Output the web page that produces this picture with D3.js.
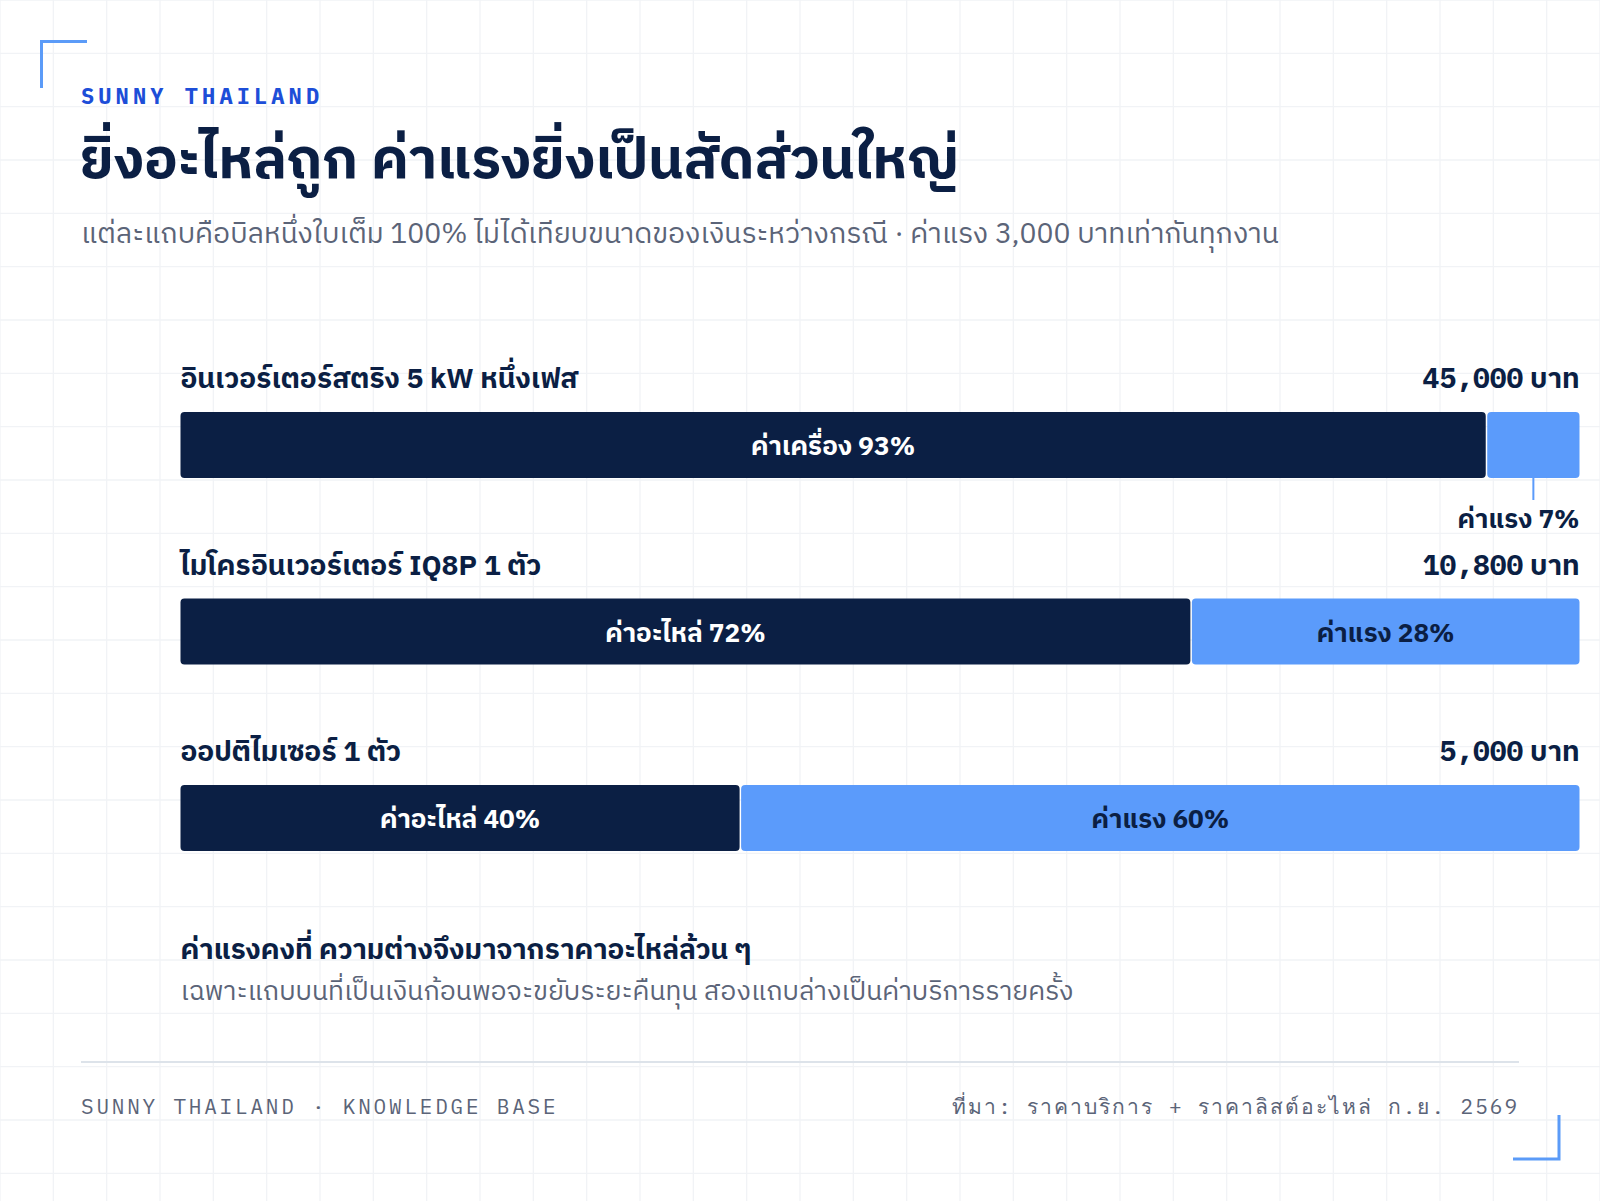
<!DOCTYPE html>
<html>
<head>
<meta charset="utf-8">
<script src="https://cdn.jsdelivr.net/npm/d3@7"></script>
<style>
  html, body { margin: 0; padding: 0; background: #fff; }
  svg { display: block; }
  .thai { font-family: "IBM Plex Sans Thai", "Noto Sans Thai", "Noto Sans", sans-serif; }
  .mono { font-family: "IBM Plex Mono", "DejaVu Sans Mono", "Liberation Mono", monospace; }
</style>
</head>
<body>
<svg id="chart" width="1600" height="1201"></svg>
<script>
// rows of the chart, each one a full bill
const jobs = ["อินเวอร์เตอร์สตริง 5 kW หนึ่งเฟส", "ไมโครอินเวอร์เตอร์ IQ8P 1 ตัว", "ออปติไมเซอร์ 1 ตัว"];
const totals = [45000, 10800, 5000];
const labor = [3000, 3000, 3000];
const partNames = ["ค่าเครื่อง", "ค่าอะไหล่", "ค่าอะไหล่"];
const laborName = "ค่าแรง";

const colors = { parts: "#0b1f44", labor: "#5b9bfb", ink: "#0b1f44", muted: "#5b6478", grid: "#f1f3f6", accent: "#5b9bf8" };

const W = 1600, H = 1201;
const svg = d3.select("#chart");

// background grid
const gridStep = W / 30;
const grid = svg.append("g");
grid.selectAll("line.v")
  .data(d3.range(0, W + 1, gridStep))
  .enter().append("line")
  .attr("x1", d => d).attr("x2", d => d)
  .attr("y1", 0).attr("y2", H)
  .attr("stroke", colors.grid).attr("stroke-width", 1.3);
grid.selectAll("line.h")
  .data(d3.range(0, H + 1, gridStep))
  .enter().append("line")
  .attr("y1", d => d).attr("y2", d => d)
  .attr("x1", 0).attr("x2", W)
  .attr("stroke", colors.grid).attr("stroke-width", 1.3);

// corner brackets
svg.append("path")
  .attr("d", "M41.5,88 V41.5 H87")
  .attr("fill", "none").attr("stroke", colors.accent).attr("stroke-width", 3);
svg.append("path")
  .attr("d", "M1513,1159 H1559 V1115")
  .attr("fill", "none").attr("stroke", colors.accent).attr("stroke-width", 3);

// header
svg.append("text").attr("class", "mono")
  .attr("x", 81).attr("y", 104)
  .attr("font-size", 22).attr("font-weight", 700).attr("letter-spacing", 4.1)
  .attr("fill", "#1d4ed8")
  .text("SUNNY THAILAND");

svg.append("text").attr("class", "thai")
  .attr("x", 80).attr("y", 178)
  .attr("font-size", 55.8).attr("font-weight", 700)
  .attr("fill", colors.ink)
  .text("ยิ่งอะไหล่ถูก ค่าแรงยิ่งเป็นสัดส่วนใหญ่");

svg.append("text").attr("class", "thai")
  .attr("x", 81).attr("y", 243)
  .attr("font-size", 28.3)
  .attr("fill", colors.muted)
  .text("แต่ละแถบคือบิลหนึ่งใบเต็ม 100% ไม่ได้เทียบขนาดของเงินระหว่างกรณี · ค่าแรง 3,000 บาทเท่ากันทุกงาน");

// scales
const x = d3.scaleLinear().domain([0, 1]).range([180.5, 1579.5]);
const y = d3.scaleLinear().domain([0, jobs.length - 1]).range([412, 785]);
const barH = 66;

const rows = jobs.map((name, i) => {
  const parts = totals[i] - labor[i];
  return {
    name, total: totals[i], i,
    segs: [
      { key: "parts", label: partNames[i], share: parts / totals[i], start: 0 },
      { key: "labor", label: laborName, share: labor[i] / totals[i], start: parts / totals[i] }
    ]
  };
});

const fmt = d3.format(",");

const row = svg.selectAll("g.row")
  .data(rows)
  .enter().append("g")
  .attr("class", "row");

row.append("text").attr("class", "thai")
  .attr("x", x(0)).attr("y", d => y(d.i) - 24)
  .attr("font-size", 28.2).attr("font-weight", 700)
  .attr("fill", colors.ink)
  .text(d => d.name);

const val = row.append("text")
  .attr("x", x(1)).attr("y", d => y(d.i) - 24)
  .attr("text-anchor", "end")
  .attr("font-size", 28).attr("font-weight", 700)
  .attr("fill", colors.ink);
val.append("tspan").attr("class", "mono").text(d => fmt(d.total));
val.append("tspan").attr("class", "thai").text(" บาท");

row.each(function (d) {
  const g = d3.select(this);
  const top = y(d.i);
  d.segs.forEach((s, k) => {
    const x0 = x(s.start) + (k > 0 ? 1 : 0);
    const x1 = x(s.start + s.share) - (k === 0 ? 0.5 : 0);
    g.append("rect")
      .attr("x", x0).attr("y", top)
      .attr("width", x1 - x0).attr("height", barH)
      .attr("rx", 4)
      .attr("fill", colors[s.key]);

    const pct = Math.round(s.share * 100);
    const txt = s.label + " " + pct + "%";
    const inside = (x1 - x0) > 180;
    if (inside) {
      g.append("text").attr("class", "thai")
        .attr("x", (x0 + x1) / 2).attr("y", top + barH / 2 + 10)
        .attr("text-anchor", "middle")
        .attr("font-size", 26.1).attr("font-weight", 700)
        .attr("fill", s.key === "parts" ? "#fff" : colors.ink)
        .text(txt);
    } else {
      const cx = (x0 + x1) / 2;
      g.append("line")
        .attr("x1", cx).attr("x2", cx)
        .attr("y1", top + barH).attr("y2", top + barH + 22)
        .attr("stroke", colors.labor).attr("stroke-width", 2);
      g.append("text").attr("class", "thai")
        .attr("x", x(1)).attr("y", top + barH + 50)
        .attr("text-anchor", "end")
        .attr("font-size", 26.1).attr("font-weight", 700)
        .attr("fill", colors.ink)
        .text(txt);
    }
  });
});

// takeaway note
svg.append("text").attr("class", "thai")
  .attr("x", 180.5).attr("y", 959)
  .attr("font-size", 28).attr("font-weight", 700)
  .attr("fill", colors.ink)
  .text("ค่าแรงคงที่ ความต่างจึงมาจากราคาอะไหล่ล้วน ๆ");
svg.append("text").attr("class", "thai")
  .attr("x", 180.5).attr("y", 1000)
  .attr("font-size", 26.6)
  .attr("fill", colors.muted)
  .text("เฉพาะแถบบนที่เป็นเงินก้อนพอจะขยับระยะคืนทุน สองแถบล่างเป็นค่าบริการรายครั้ง");

// footer
svg.append("line")
  .attr("x1", 81).attr("x2", 1519)
  .attr("y1", 1062).attr("y2", 1062)
  .attr("stroke", "#dde3ea").attr("stroke-width", 2);
svg.append("text").attr("class", "mono")
  .attr("x", 81).attr("y", 1114)
  .attr("font-size", 21).attr("letter-spacing", 2.8)
  .attr("fill", colors.muted)
  .text("SUNNY THAILAND · KNOWLEDGE BASE");
svg.append("text").attr("class", "mono")
  .attr("x", 1519).attr("y", 1114)
  .attr("text-anchor", "end")
  .attr("font-size", 21).attr("letter-spacing", 2)
  .attr("fill", colors.muted)
  .text("ที่มา: ราคาบริการ + ราคาลิสต์อะไหล่ ก.ย. 2569");
</script>
</body>
</html>
